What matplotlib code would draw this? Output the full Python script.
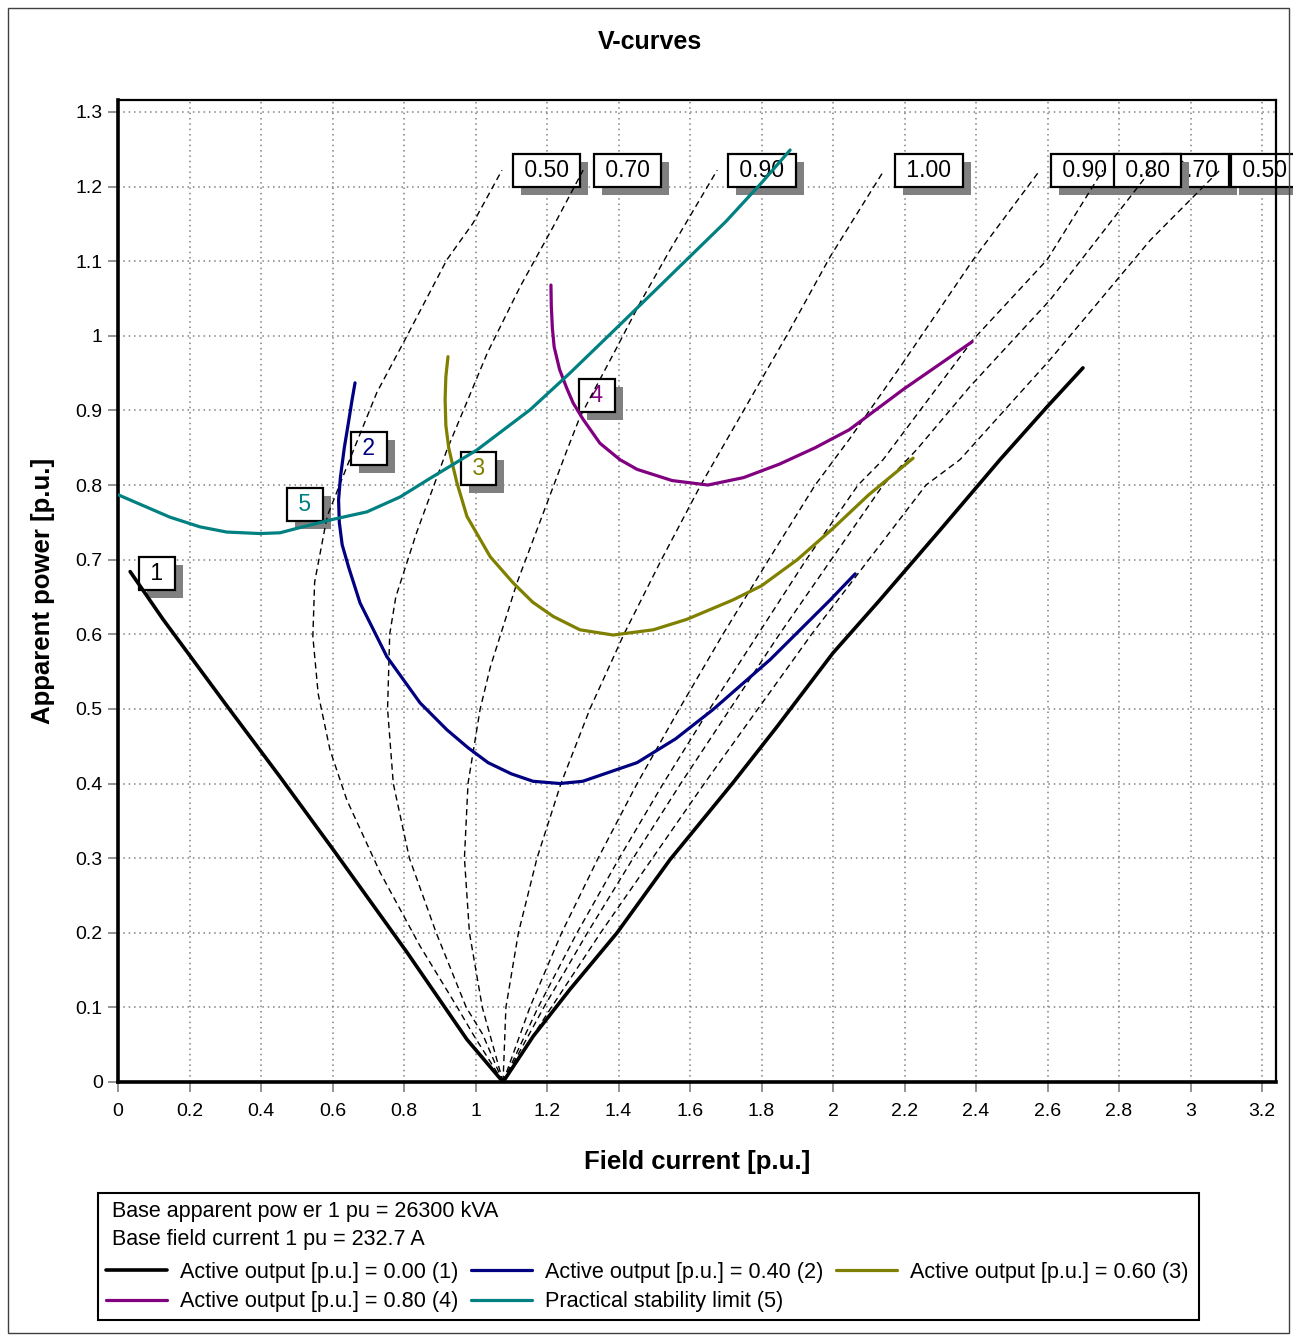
import matplotlib
matplotlib.use("Agg")
import matplotlib.pyplot as plt
from matplotlib.patches import Rectangle
from matplotlib.ticker import FuncFormatter
import matplotlib.patheffects as pe

plt.rcParams['font.family'] = ['Liberation Sans', 'DejaVu Sans']

# ---------------- data ----------------
# V-curves (field current [p.u.] vs apparent power [p.u.])
c1_x = [0.034, 0.126, 0.20, 0.30, 0.453, 0.601, 0.808, 0.976, 1.077, 1.161, 1.264, 1.396,
        1.544, 1.720, 1.843, 2.0, 2.131, 2.30, 2.467, 2.599, 2.699]
c1_y = [0.684, 0.620, 0.572, 0.507, 0.409, 0.312, 0.174, 0.057, 0.0, 0.061, 0.124, 0.200,
        0.298, 0.401, 0.476, 0.575, 0.646, 0.740, 0.834, 0.905, 0.957]

c2_x = [0.663, 0.655, 0.645, 0.633, 0.622, 0.617, 0.619, 0.627, 0.645, 0.677, 0.752, 0.845,
        0.920, 0.979, 1.035, 1.100, 1.161, 1.236, 1.300, 1.452, 1.560, 1.664, 1.824, 1.992, 2.062]
c2_y = [0.937, 0.915, 0.885, 0.850, 0.810, 0.780, 0.750, 0.720, 0.690, 0.642, 0.570, 0.508,
        0.472, 0.448, 0.428, 0.413, 0.403, 0.400, 0.403, 0.428, 0.460, 0.499, 0.566, 0.646, 0.681]

c3_x = [0.923, 0.917, 0.915, 0.917, 0.925, 0.937, 0.948, 0.976, 1.041, 1.105, 1.160, 1.217,
        1.292, 1.385, 1.497, 1.591, 1.720, 1.800, 1.900, 2.000, 2.100, 2.224]
c3_y = [0.972, 0.945, 0.915, 0.880, 0.850, 0.825, 0.803, 0.758, 0.704, 0.669, 0.643, 0.624,
        0.606, 0.599, 0.606, 0.620, 0.646, 0.665, 0.700, 0.742, 0.787, 0.836]

c4_x = [1.211, 1.212, 1.215, 1.220, 1.235, 1.255, 1.273, 1.301, 1.348, 1.404, 1.452, 1.550,
        1.650, 1.750, 1.850, 1.950, 2.045, 2.196, 2.389]
c4_y = [1.068, 1.040, 1.010, 0.985, 0.955, 0.930, 0.910, 0.888, 0.856, 0.834, 0.821, 0.806,
        0.800, 0.810, 0.828, 0.850, 0.874, 0.928, 0.992]

c5_x = [0.0, 0.145, 0.229, 0.304, 0.397, 0.453, 0.509, 0.601, 0.696, 0.789, 0.873, 1.004,
        1.153, 1.264, 1.400, 1.550, 1.700, 1.800, 1.880]
c5_y = [0.787, 0.757, 0.744, 0.737, 0.735, 0.736, 0.743, 0.754, 0.764, 0.784, 0.809, 0.847,
        0.901, 0.950, 1.013, 1.083, 1.153, 1.205, 1.249]

curve_names = ["Active output [p.u.] = 0.00 (1)", "Active output [p.u.] = 0.40 (2)",
               "Active output [p.u.] = 0.60 (3)", "Active output [p.u.] = 0.80 (4)",
               "Practical stability limit (5)"]
curve_tags = ["1", "2", "3", "4", "5"]
tag_x = [0.109, 0.702, 1.008, 1.340, 0.523]
tag_y = [0.682, 0.849, 0.822, 0.920, 0.774]

# constant power-factor lines
pf_labels = ["0.50", "0.70", "0.90", "1.00", "0.90", "0.80", "0.70", "0.50"]
pf_x = [
    [1.077, 0.993, 0.948, 0.845, 0.733, 0.640, 0.593, 0.560, 0.545, 0.550, 0.585, 0.653, 0.724, 0.803, 0.920, 0.993, 1.074],
    [1.077, 1.020, 0.974, 0.890, 0.815, 0.770, 0.754, 0.760, 0.777, 0.835, 0.920, 1.033, 1.125, 1.217, 1.301],
    [1.077, 1.019, 0.983, 0.969, 0.979, 1.013, 1.042, 1.116, 1.256, 1.292, 1.396, 1.460, 1.544, 1.676],
    [1.077, 1.085, 1.120, 1.172, 1.239, 1.320, 1.415, 1.520, 1.630, 1.750, 1.870, 1.992, 2.143],
    [1.077, 1.152, 1.241, 1.343, 1.452, 1.570, 1.692, 1.820, 1.950, 2.045, 2.196, 2.392, 2.579],
    [1.077, 1.175, 1.284, 1.402, 1.525, 1.655, 1.790, 1.925, 2.070, 2.140, 2.392, 2.599, 2.755],
    [1.077, 1.191, 1.313, 1.441, 1.574, 1.712, 1.850, 1.995, 2.140, 2.235, 2.383, 2.607, 2.839, 2.889],
    [1.077, 1.212, 1.350, 1.495, 1.640, 1.790, 1.940, 2.100, 2.260, 2.355, 2.607, 2.887, 3.063, 3.082],
]
pf_y = [
    [0.0, 0.064, 0.101, 0.182, 0.281, 0.378, 0.445, 0.520, 0.597, 0.670, 0.758, 0.840, 0.924, 0.995, 1.102, 1.151, 1.222],
    [0.0, 0.064, 0.100, 0.200, 0.300, 0.400, 0.500, 0.600, 0.650, 0.736, 0.847, 0.977, 1.066, 1.146, 1.222],
    [0.0, 0.100, 0.200, 0.300, 0.400, 0.500, 0.557, 0.669, 0.847, 0.891, 0.985, 1.044, 1.115, 1.222],
    [0.0, 0.100, 0.200, 0.300, 0.400, 0.500, 0.600, 0.700, 0.800, 0.900, 1.000, 1.106, 1.222],
    [0.0, 0.100, 0.200, 0.300, 0.400, 0.500, 0.600, 0.700, 0.800, 0.861, 0.964, 1.102, 1.222],
    [0.0, 0.100, 0.200, 0.300, 0.400, 0.500, 0.600, 0.700, 0.800, 0.834, 0.995, 1.102, 1.222],
    [0.0, 0.100, 0.200, 0.300, 0.400, 0.500, 0.600, 0.700, 0.800, 0.848, 0.932, 1.048, 1.191, 1.222],
    [0.0, 0.100, 0.200, 0.300, 0.400, 0.500, 0.600, 0.700, 0.800, 0.834, 0.968, 1.128, 1.213, 1.222],
]

x_ticks = [0, 0.2, 0.4, 0.6, 0.8, 1, 1.2, 1.4, 1.6, 1.8, 2, 2.2, 2.4, 2.6, 2.8, 3, 3.2]
y_ticks = [0, 0.1, 0.2, 0.3, 0.4, 0.5, 0.6, 0.7, 0.8, 0.9, 1, 1.1, 1.2, 1.3]

info_lines = ["Base apparent pow er 1 pu = 26300 kVA", "Base field current 1 pu = 232.7 A"]

# ---------------- styling ----------------
colors = ["#000000", "#000080", "#808000", "#800080", "#008080"]
W, H = 1293, 1336
fig = plt.figure(figsize=(W / 100, H / 100), dpi=100)

def fx(px):
    return px / W

def fy(py):
    return 1 - py / H

ax = fig.add_axes([fx(118), fy(1082), fx(1276) - fx(118), fy(100) - fy(1082)])
ax.set_xlim(0, 3.239)
ax.set_ylim(0, 1.316)

ax.set_xticks(x_ticks)
ax.set_yticks(y_ticks)
fmt = FuncFormatter(lambda v, p: "%g" % round(v, 2))
ax.xaxis.set_major_formatter(fmt)
ax.yaxis.set_major_formatter(fmt)
ax.tick_params(direction='out', length=7, width=1.2, color='#808080',
               labelsize=14, pad=4)
ax.tick_params(axis='x', pad=8)
ax.grid(True, color='#808080', linestyle=(0, (1, 2.5)), linewidth=1.1, zorder=0)
ax.set_axisbelow(True)
for s in ['left', 'bottom']:
    ax.spines[s].set_linewidth(2.6)
for s in ['top', 'right']:
    ax.spines[s].set_linewidth(1.6)

# pf lines
for xs, ys in zip(pf_x, pf_y):
    ax.plot(xs, ys, color='black', linewidth=1.0, linestyle=(0, (4.5, 3)), zorder=4)

# V-curves
series = [(c1_x, c1_y), (c2_x, c2_y), (c3_x, c3_y), (c4_x, c4_y), (c5_x, c5_y)]
handles = []
for (xs, ys), col, name in zip(series, colors, curve_names):
    lw = 2.6 if col == "#000000" else 2.3
    h, = ax.plot(xs, ys, color=col, linewidth=lw, label=name, zorder=5,
                 solid_capstyle='round')
    handles.append(h)

shadow = [pe.withSimplePatchShadow(offset=(5.8, -5.8), shadow_rgbFace='#808080', alpha=1.0)]


def boxed(x, y, txt, col, dx, fs, ha='center', z=2):
    t = ax.annotate(txt, (x, y), xytext=(dx, 0), textcoords='offset pixels',
                    ha=ha, va='center', fontsize=fs, color=col,
                    bbox=dict(boxstyle='square,pad=0.22', fc='white', ec='black', lw=1.6),
                    annotation_clip=False, zorder=z)
    t.get_bbox_patch().set_path_effects(shadow)
    return t


for i, (xs, ys, lab) in enumerate(zip(pf_x, pf_y, pf_labels)):
    z = 2 if i != 6 else 1.5
    boxed(xs[-1], ys[-1], " " + lab + " ", 'black', 16, 16.5, ha='left', z=z)

for t, x, y, col in zip(curve_tags, tag_x, tag_y, colors):
    boxed(x, y, " " + t + " ", col, 0, 16.5, ha='center', z=2)

ax.set_xlabel("Field current [p.u.]", fontsize=18.5, fontweight='bold', labelpad=22)
ax.set_ylabel("Apparent power [p.u.]", fontsize=18.5, fontweight='bold', labelpad=15)

fig.text(fx(650), fy(42), "V-curves", ha='center', va='center', fontsize=18,
         fontweight='bold')

# outer frame
fig.add_artist(Rectangle((fx(8), fy(1333)), fx(1289) - fx(8), fy(8) - fy(1333),
                         transform=fig.transFigure, fill=False, ec='#404040', lw=1.0))
# legend frame
fig.add_artist(Rectangle((fx(98), fy(1320)), fx(1199) - fx(98), fy(1193) - fy(1320),
                         transform=fig.transFigure, fill=False, ec='black', lw=1.5))
for i, line in enumerate(info_lines):
    fig.text(fx(112), fy(1212 + 28 * i), line, ha='left', va='center', fontsize=15.5)

order = [0, 3, 1, 4, 2]
fig.legend([handles[i] for i in order], [curve_names[i] for i in order], ncol=3,
           loc='upper left', bbox_to_anchor=(fx(106), fy(1262)), frameon=False,
           fontsize=15.6, handlelength=2.8, handletextpad=0.6, columnspacing=0.6,
           labelspacing=0.38, borderpad=0, borderaxespad=0)

fig.savefig("out.png", dpi=100)
